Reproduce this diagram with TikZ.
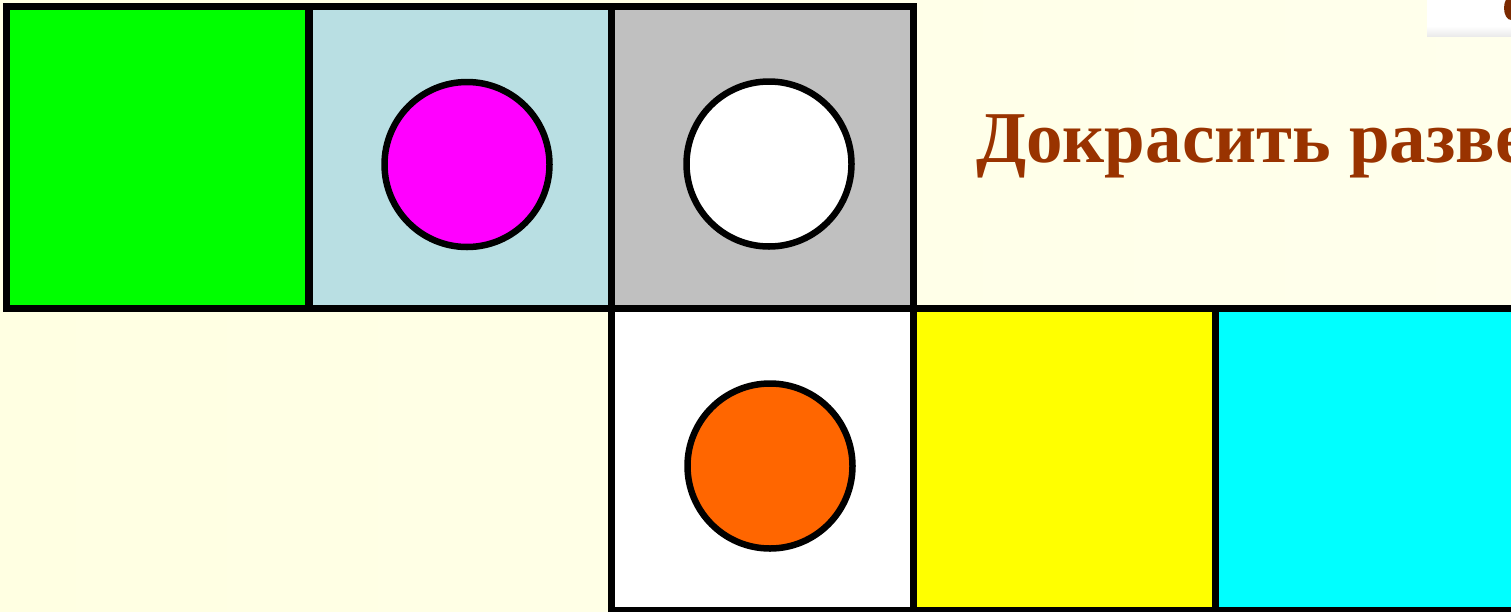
\documentclass[tikz,border=0pt]{standalone}
\usepackage{fontspec}
\setmainfont{Liberation Serif}
\definecolor{bgl}{HTML}{FFFFE2}
\definecolor{bgr}{HTML}{FFFFEC}
\definecolor{lblue}{HTML}{B9DFE3}
\definecolor{lgray}{HTML}{C0C0C0}
\definecolor{brownt}{HTML}{993300}
\definecolor{orng}{HTML}{FF6600}
\definecolor{mgnt}{HTML}{FF00FF}
\definecolor{cyn}{HTML}{00FFFF}
\definecolor{ylw}{HTML}{FFFF00}
\definecolor{grn}{HTML}{00FF00}
\begin{document}
\begin{tikzpicture}[x=1pt,y=-1pt,
  cell/.style={rectangle, draw=black, line width=7pt, minimum size=302pt, inner sep=0pt},
  dot/.style={circle, draw=black, line width=6.5pt, minimum size=165pt, inner sep=0pt}]
\useasboundingbox (0,0) rectangle (1511,611);
\clip (0,0) rectangle (1511,611);
\shade[left color=bgl, right color=bgr] (0,0) rectangle (1511,611);
% clipart fragment top right
\fill[white] (1427,0) rectangle (1511,36);
\shade[top color=white, bottom color=black!8] (1427,26) rectangle (1511,36);
\fill[brownt!80!black] (1511,8) ellipse (7pt and 12pt);
% cells
\node[cell, fill=grn] (c1) at (157.75,157.25) {};
\node[cell, fill=lblue] (c2) at (460,157.25) {};
\node[cell, fill=lgray] (c3) at (762,157.25) {};
\node[cell, fill=white] (c4) at (762,459) {};
\node[cell, fill=ylw] (c5) at (1064,459) {};
\node[cell, fill=cyn] (c6) at (1366,459) {};
% circles
\node[dot, fill=mgnt] (d1) at (467,164.5) {};
\node[dot, fill=white] (d2) at (769,164) {};
\node[dot, fill=orng] (d3) at (770,466) {};
% title
\node[anchor=base west, inner sep=0pt, text=brownt, font=\bfseries\fontsize{73}{85}\selectfont] (t) at (976,162) {Докрасить разве};
\end{tikzpicture}
\end{document}
